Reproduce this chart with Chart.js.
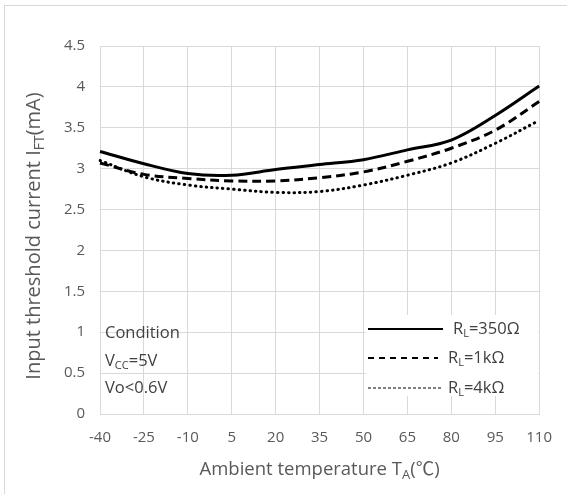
<!DOCTYPE html>
<html>
<head>
<meta charset="utf-8">
<script src="https://cdn.jsdelivr.net/npm/chart.js@4"></script>
<style>
  html, body { margin: 0; padding: 0; background: #fff; }
  #wrap { position: relative; width: 567px; height: 494px; overflow: hidden; }
  #frame { position: absolute; left: 4px; top: 5px; width: 600px; height: 600px; border: 1px solid #d9d9d9; box-sizing: border-box; }
  canvas { position: absolute; left: 0; top: 0; }
</style>
</head>
<body>
<div id="wrap">
  <div id="frame"></div>
  <canvas id="c" width="567" height="494"></canvas>
</div>
<script>
/* ---------- data ---------- */
const temps = [-40, -25, -10, 5, 20, 35, 50, 65, 80, 95, 110];
const rl350 = [3.21, 3.06, 2.94, 2.92, 2.99, 3.05, 3.11, 3.23, 3.35, 3.65, 4.01];
const rl1k  = [3.07, 2.93, 2.88, 2.85, 2.85, 2.89, 2.96, 3.09, 3.25, 3.47, 3.82];
const rl4k  = [3.10, 2.90, 2.80, 2.75, 2.71, 2.72, 2.80, 2.92, 3.07, 3.31, 3.59];
const yTicks = [0, 0.5, 1, 1.5, 2, 2.5, 3, 3.5, 4, 4.5];

const FONT = '"Open Sans", "Noto Sans CJK SC", sans-serif';
const GRID = '#d9d9d9';
const TXT = '#595959';

/* draw text with subscript pieces: parts = [[text, isSub], ...] */
function richText(ctx, parts, x, y, size, color) {
  const sub = Math.round(size * 0.68);
  let w = 0;
  parts.forEach(([t, s]) => {
    ctx.font = (s ? sub : size) + 'px ' + FONT;
    w += ctx.measureText(t).width;
  });
  richLeft(ctx, parts, x - w / 2, y, size, color);
}

function richLeft(ctx, parts, x, y, size, color) {
  const sub = Math.round(size * 0.68);
  let cx = x;
  ctx.fillStyle = color;
  ctx.textBaseline = 'middle';
  ctx.textAlign = 'left';
  parts.forEach(([t, s]) => {
    ctx.font = (s ? sub : size) + 'px ' + FONT;
    ctx.fillText(t, cx, s ? y + size * 0.28 : y);
    cx += ctx.measureText(t).width;
  });
}

/* ---------- annotations: titles, condition, legend ---------- */
const annotations = {
  id: 'annotations',
  afterDraw(chart) {
    const ctx = chart.ctx;
    const a = chart.chartArea;
    ctx.save();

    // axis titles
    richText(ctx, [['Ambient temperature T', false], ['A', true], ['(\u2103)', false]],
      (a.left + a.right) / 2, 470, 18.5, TXT);
    ctx.save();
    ctx.translate(34, 236);
    ctx.rotate(-Math.PI / 2);
    richText(ctx, [['Input threshold current I', false], ['FT', true], ['(mA)', false]],
      0, 0, 20, TXT);
    ctx.restore();

    // condition text
    const dark = '#404040';
    richLeft(ctx, [['Condition', false]], 105, 333, 16.5, dark);
    richLeft(ctx, [['V', false], ['CC', true], ['=5V', false]], 105, 361, 16.5, dark);
    richLeft(ctx, [['Vo<0.6V', false]], 105, 388, 16.5, dark);

    // legend box
    ctx.fillStyle = '#fff';
    ctx.fillRect(366, 315, a.right - 366 - 1, 81);
    const rows = [
      { y: 329, dash: [], w: 2, x2: 443, label: [['R', false], ['L', true], ['=350\u03A9', false]], tx: 453 },
      { y: 358, dash: [6, 5], w: 2, x2: 438, label: [['R', false], ['L', true], ['=1k\u03A9', false]], tx: 448 },
      { y: 388, dash: [3, 2], w: 1, x2: 442, label: [['R', false], ['L', true], ['=4k\u03A9', false]], tx: 448 },
    ];
    rows.forEach((r) => {
      ctx.beginPath();
      ctx.setLineDash(r.dash);
      ctx.lineWidth = r.w;
      ctx.strokeStyle = '#000';
      ctx.moveTo(368, r.y);
      ctx.lineTo(r.x2, r.y);
      ctx.stroke();
      ctx.setLineDash([]);
      richLeft(ctx, r.label, r.tx, r.y, 16.5, dark);
    });
    ctx.restore();
  },
};

new Chart(document.getElementById('c'), {
  type: 'line',
  data: {
    labels: temps,
    datasets: [
      { label: 'RL=350Ω', data: rl350, borderColor: '#000', borderWidth: 3, tension: 0.35, pointRadius: 0 },
      { label: 'RL=1kΩ', data: rl1k, borderColor: '#000', borderWidth: 3, borderDash: [9, 5], tension: 0.35, pointRadius: 0 },
      { label: 'RL=4kΩ', data: rl4k, borderColor: '#000', borderWidth: 3, borderDash: [0.5, 5], borderCapStyle: 'round', tension: 0.35, pointRadius: 0 },
    ],
  },
  options: {
    responsive: false,
    animation: false,
    layout: { padding: { top: 46, right: 26, left: 0, bottom: 0 } },
    plugins: { legend: { display: false }, tooltip: { enabled: false } },
    scales: {
      x: {
        type: 'category',
        offset: false,
        grid: { color: GRID, drawTicks: false },
        border: { color: GRID },
        ticks: { color: TXT, font: { family: FONT, size: 15 }, padding: 15, maxRotation: 0, autoSkip: false },
        afterFit: (s) => { s.height = 80; },
      },
      y: {
        min: 0,
        max: 4.5,
        grid: { color: GRID, drawTicks: false },
        border: { color: GRID },
        afterBuildTicks: (s) => { s.ticks = yTicks.map((v) => ({ value: v })); },
        ticks: { color: TXT, font: { family: FONT, size: 15 }, padding: 15, callback: (v) => String(v) },
        afterFit: (s) => { s.width = 100; },
      },
    },
  },
  plugins: [annotations],
});
</script>
</body>
</html>
